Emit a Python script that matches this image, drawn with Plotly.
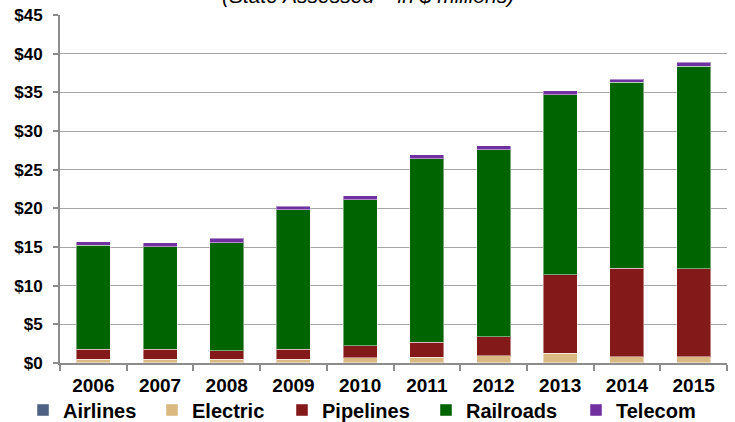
import plotly.graph_objects as go

# Values ($ millions)
years = ['2006', '2007', '2008', '2009', '2010', '2011', '2012', '2013', '2014', '2015']
airlines = [0.02, 0.02, 0.02, 0.02, 0.02, 0.02, 0.02, 0.02, 0.02, 0.02]
electric = [0.48, 0.48, 0.48, 0.48, 0.68, 0.71, 0.93, 1.23, 0.80, 0.80]
pipelines = [1.30, 1.30, 1.10, 1.27, 1.50, 1.95, 2.45, 10.15, 11.43, 11.34]
railroads = [13.40, 13.25, 13.95, 18.03, 18.90, 23.72, 24.20, 23.30, 24.05, 26.24]
telecom = [0.45, 0.50, 0.55, 0.50, 0.50, 0.50, 0.47, 0.50, 0.40, 0.50]

y_ticks = [0, 5, 10, 15, 20, 25, 30, 35, 40, 45]

series = [
    ('Airlines', airlines, '#4F6283'),
    ('Electric', electric, '#D9B97F'),
    ('Pipelines', pipelines, '#841919'),
    ('Railroads', railroads, '#006400'),
    ('Telecom', telecom, '#7030A0'),
]
# one legend per series so each entry sits where the source has it (px from left)
legend_x = [23, 152, 282, 426, 576]

W, H = 735, 422

fig = go.Figure()
layout_legends = {}
for i, (name, vals, color) in enumerate(series):
    key = 'legend' if i == 0 else 'legend%d' % (i + 1)
    fig.add_trace(go.Bar(
        x=years, y=vals, name=name, legend=key,
        marker=dict(color=color, line=dict(color='rgba(255,255,255,0.45)', width=1)),
    ))
    layout_legends[key] = dict(
        orientation='h', xref='container', yref='container',
        x=legend_x[i] / W, xanchor='left', y=1 - 410 / H, yanchor='middle',
        font=dict(size=20, weight='bold', color='black'),
        bgcolor='rgba(0,0,0,0)', itemwidth=30,
    )

# title, partly cut by the top edge like the source
fig.add_annotation(
    text='<i>(State Assessed \u2013 in $ millions)</i>',
    xref='paper', yref='paper', x=0.462, y=1.0, yshift=19.5,
    xanchor='center', yanchor='middle', showarrow=False,
    font=dict(family='Liberation Sans, Arial', size=21, color='black'),
)

fig.update_layout(
    barmode='stack',
    bargap=0.49,
    width=W, height=H,
    margin=dict(l=60, r=8, t=15, b=59, autoexpand=False),
    paper_bgcolor='white',
    plot_bgcolor='white',
    font=dict(family='Liberation Sans, Arial', color='black'),
    showlegend=True,
    **layout_legends,
)

fig.update_xaxes(
    type='category', automargin=False,
    showline=True, linecolor='#8C8C8C', linewidth=2,
    ticks='outside', tickson='boundaries', ticklen=6, tickcolor='#8C8C8C', tickwidth=2,
    tickfont=dict(size=19, weight='bold', color='black'),
    ticklabelstandoff=4,
    showgrid=False,
)
fig.update_yaxes(
    range=[0, 45], automargin=False,
    tickvals=y_ticks,
    ticktext=['$' + str(v) for v in y_ticks],
    showline=True, linecolor='#8C8C8C', linewidth=2,
    ticks='outside', ticklen=5, tickcolor='#8C8C8C', tickwidth=2,
    tickfont=dict(size=17, weight='bold', color='black'),
    ticklabelstandoff=7, ticklabeloverflow='allow',
    showgrid=True, gridcolor='#A6A6A6', gridwidth=1,
    zeroline=False,
)

# drop the default 8px body margin so the figure starts at the window corner
fig.write_html('out.html', config={'displayModeBar': False},
               post_script="document.body.style.margin='0';")
